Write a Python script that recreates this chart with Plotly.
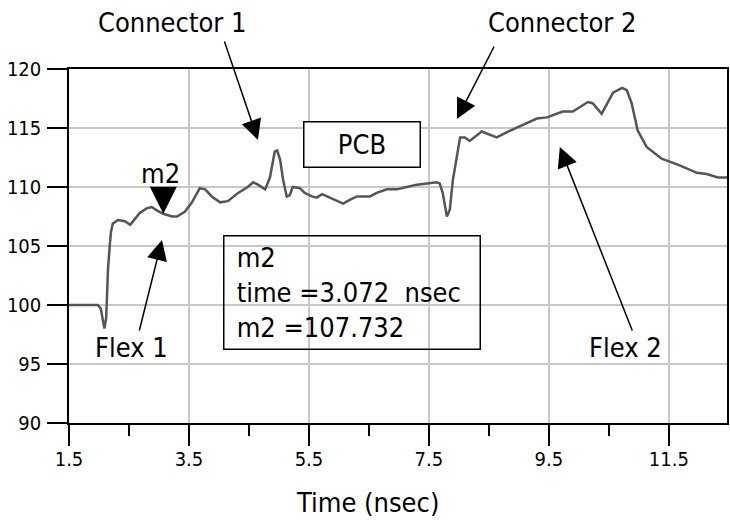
import plotly.graph_objects as go

# Trace data (time in nsec, impedance)
time_ns = [1.50, 1.98, 2.03, 2.07, 2.09, 2.12, 2.13, 2.15, 2.18, 2.20, 2.23, 2.32, 2.43, 2.52,
           2.60, 2.68, 2.80, 2.88, 2.97, 3.072, 3.22, 3.30, 3.43, 3.55, 3.68, 3.77, 3.88, 4.02,
           4.15, 4.32, 4.48, 4.57, 4.65, 4.77, 4.85, 4.93, 4.97, 5.02, 5.07, 5.13, 5.18, 5.23,
           5.35, 5.43, 5.55, 5.63, 5.72, 5.85, 6.07, 6.18, 6.30, 6.52, 6.63, 6.80, 6.97, 7.13,
           7.30, 7.47, 7.63, 7.68, 7.73, 7.80, 7.85, 7.90, 7.97, 8.02, 8.10, 8.18, 8.38, 8.48,
           8.63, 8.82, 9.07, 9.30, 9.47, 9.73, 9.90, 10.15, 10.23, 10.38, 10.57, 10.72, 10.80,
           10.88, 10.98, 11.13, 11.38, 11.65, 11.97, 12.13, 12.32, 12.47]
impedance = [100.0, 100.0, 99.7, 98.6, 98.0, 98.9, 100.8, 103.0, 105.1, 106.2, 106.9, 107.2, 107.1, 106.8,
             107.3, 107.8, 108.2, 108.3, 108.0, 107.732, 107.5, 107.5, 107.9, 108.7, 109.9, 109.8, 109.2, 108.7,
             108.8, 109.5, 110.0, 110.4, 110.2, 109.8, 110.8, 113.0, 113.1, 112.3, 110.6, 109.2, 109.3, 110.0,
             109.9, 109.5, 109.2, 109.1, 109.4, 109.1, 108.6, 108.9, 109.2, 109.2, 109.5, 109.8, 109.8, 110.0,
             110.2, 110.3, 110.4, 110.3, 109.5, 107.5, 108.1, 110.6, 112.5, 114.2, 114.2, 113.9, 114.7, 114.5,
             114.2, 114.7, 115.3, 115.8, 115.9, 116.4, 116.4, 117.2, 117.1, 116.2, 118.0, 118.4, 118.2,
             117.1, 114.8, 113.4, 112.4, 111.9, 111.2, 111.1, 110.8, 110.8]

marker_name = "m2"
marker_time = 3.072
marker_value = 107.732

x_tickvals = [1.5, 3.5, 5.5, 7.5, 9.5, 11.5]
x_ticktext = ["1.5", "3.5", "5.5", "7.5", "9.5", "11.5"]
x_minor_ticks = [2.5, 4.5, 6.5, 8.5, 10.5]
y_tickvals = [90, 95, 100, 105, 110, 115, 120]

TICKFONT = "DejaVu Sans Condensed, DejaVu Sans, sans-serif"
TXTFONT = "DejaVu Sans Condensed, DejaVu Sans, sans-serif"

# plot area in pixels (for placing paper-referenced labels)
PL, PR, PT, PB = 69, 727, 69, 423


def px(x):
    return (x - PL) / (PR - PL)


def py(y):
    return (PB - y) / (PB - PT)


fig = go.Figure()
fig.add_trace(go.Scatter(x=time_ns, y=impedance, mode="lines",
                         line=dict(color="#555555", width=2.5), hoverinfo="skip",
                         showlegend=False))
fig.add_trace(go.Scatter(x=[marker_time], y=[marker_value], mode="markers",
                         marker=dict(symbol="arrow-down", size=27, color="black"),
                         hoverinfo="skip", showlegend=False))

annotations = []
tf = dict(family=TXTFONT, size=27, color="black")
# marker label
annotations.append(dict(x=marker_time, y=marker_value, xref="x", yref="y", text=marker_name,
                        showarrow=False, font=tf, yshift=40, xshift=-3,
                        xanchor="center", yanchor="middle"))
# text labels
for txt, cx, cy in [("Connector 1", 172, 23), ("Connector 2", 562, 23),
                    ("Flex 1", 131, 347), ("Flex 2", 625, 347), ("Time (nsec)", 367, 502)]:
    annotations.append(dict(x=px(cx), y=py(cy), xref="paper", yref="paper", text=txt,
                            showarrow=False, font=tf, xanchor="center", yanchor="middle"))
# arrows (head position in data coords, tail offset in px)
for hx, hy, ax, ay in [(4.65, 113.98, -34, -100), (7.967, 115.76, 38, -74),
                       (3.05, 105.51, -23, 92), (9.683, 113.39, 73, 185)]:
    annotations.append(dict(x=hx, y=hy, xref="x", yref="y", ax=ax, ay=ay, text="",
                            showarrow=True, arrowhead=2, arrowsize=2.7, arrowwidth=1.5,
                            arrowcolor="black", font=dict(size=1)))
# PCB box
annotations.append(dict(x=px(362), y=py(144.5), xref="paper", yref="paper",
                        text="PCB", showarrow=False, font=tf, bgcolor="white",
                        xanchor="center", yanchor="middle",
                        bordercolor="black", borderwidth=1.5, borderpad=0, width=115, height=44))
# marker readout box
lead = "\u2002"
readout = (f"{lead}{marker_name}<br>{lead}time ={marker_time:.3f}  nsec<br>"
           f"{lead}{marker_name} ={marker_value:.3f}")
annotations.append(dict(x=px(352), y=py(292.5), xref="paper", yref="paper",
                        text=readout, showarrow=False, font=tf, align="left", valign="middle",
                        xanchor="center", yanchor="middle",
                        bordercolor="black", borderwidth=1.5, borderpad=0, width=255, height=112))

fig.update_layout(
    width=730, height=521,
    margin=dict(l=PL, r=730 - PR, t=PT, b=521 - PB, autoexpand=False),
    paper_bgcolor="white", plot_bgcolor="white",
    annotations=annotations,
    xaxis=dict(range=[1.5, 12.47], tickvals=x_tickvals, ticktext=x_ticktext,
               showgrid=True, gridcolor="#c8c8c8", gridwidth=1.5, automargin=False,
               showline=True, linecolor="black", linewidth=1.5, mirror=True,
               ticks="outside", ticklen=21, tickwidth=1.5, tickcolor="black",
               ticklabelstandoff=-4,
               minor=dict(tickvals=x_minor_ticks, ticks="outside", ticklen=11,
                          tickwidth=1.5, tickcolor="black", showgrid=False),
               tickfont=dict(family=TICKFONT, size=20, color="black"), zeroline=False),
    yaxis=dict(range=[90, 120], tickvals=y_tickvals, automargin=False,
               showgrid=True, gridcolor="#c8c8c8", gridwidth=1.5,
               showline=True, linecolor="black", linewidth=1.5, mirror=True,
               ticks="outside", ticklen=20, tickwidth=1.5, tickcolor="black",
               ticklabelstandoff=2,
               tickfont=dict(family=TICKFONT, size=20, color="black"), zeroline=False),
)

fig.write_html("out.html", config={"displayModeBar": False},
               post_script="document.body.style.margin='0';document.body.style.overflow='hidden';")
